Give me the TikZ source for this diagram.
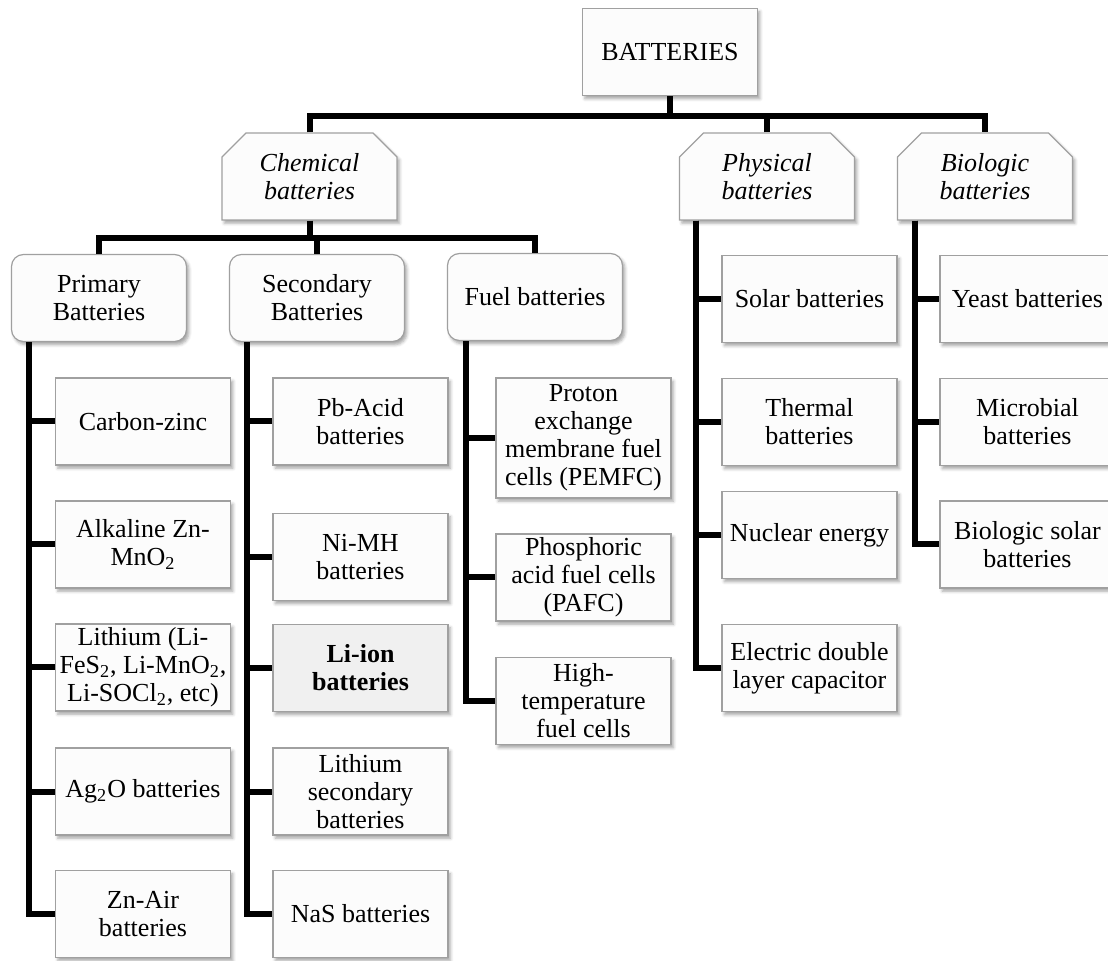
\documentclass[tikz,border=0pt]{standalone}
\usepackage{fontspec}
\setmainfont{Liberation Serif}
\usepackage{tikz}
\usetikzlibrary{
  shapes.misc,
  shadows.blur,
  positioning
}
\definecolor{BoxLine}{RGB}{160, 160, 160}
\definecolor{BoxFill}{RGB}{252, 252, 252}
\definecolor{KeyFill}{RGB}{240, 240, 240}
\tikzset{
    base/.style={draw=BoxLine, line width=0.6pt, fill=BoxFill, align=center,
        minimum width=87.5pt, minimum height=43.5pt, inner xsep=2pt, inner ysep=1pt,
        font=\fontsize{13}{14}\selectfont,
        blur shadow={shadow xshift=1.2pt, shadow yshift=-1.6pt,
            shadow blur radius=1.5pt, shadow opacity=35}},
    leaf/.style={base, rectangle},
    group/.style={base, rectangle, rounded corners=6pt},
    family/.style={base, chamfered rectangle,
        chamfered rectangle corners={north west, north east},
        chamfered rectangle xsep=6pt, chamfered rectangle ysep=6pt,
        font=\fontsize{13}{14}\selectfont\itshape},
    link/.style={line width=3pt, black},
}

\begin{document}
\begin{tikzpicture}[x=0.5pt, y=-0.5pt]
    \path[use as bounding box, clip] (0,0) rectangle (1108,961);

    % root and the three families
    \node[leaf] (top) at (670,52) {BATTERIES};
    \node[family] (chem) at (309.5,176.5) {Chemical\\batteries};
    \node[family] (phys) at (767,176.5) {Physical\\batteries};
    \node[family] (bio) at (985,176.5) {Biologic\\batteries};

    % chemical groups
    \node[group] (prim) at (99,298) {Primary\\Batteries};
    \node[group] (sec) at (317,298) {Secondary\\Batteries};
    \node[group] (fuel) at (535,297) {Fuel batteries};

    % primary
    \node[leaf] (cz) at (143,421.5) {Carbon-zinc};
    \node[leaf] (alk) at (143,544.5) {Alkaline Zn-\\MnO\textsubscript{2}};
    \node[leaf] (lith) at (143,667.5) {Lithium (Li-\\FeS\textsubscript{2}, Li-MnO\textsubscript{2},\\Li-SOCl\textsubscript{2}, etc)};
    \node[leaf] (ago) at (143,791.5) {Ag\textsubscript{2}O batteries};
    \node[leaf] (zna) at (143,914) {Zn-Air\\batteries};

    % secondary
    \node[leaf] (pba) at (360.5,421.5) {Pb-Acid\\batteries};
    \node[leaf] (nimh) at (360.5,557) {Ni-MH\\batteries};
    \node[leaf, fill=KeyFill, font=\fontsize{13}{14}\selectfont\bfseries] (liion) at (360.5,668) {Li-ion\\batteries};
    \node[leaf] (lisec) at (360.5,791.5) {Lithium\\secondary\\batteries};
    \node[leaf] (nas) at (360.5,914) {NaS batteries};

    % fuel
    \node[leaf, minimum height=60pt] (pem) at (583.5,438) {Proton\\exchange\\membrane fuel\\cells (PEMFC)};
    \node[leaf] (pafc) at (583.5,577.5) {Phosphoric\\acid fuel cells\\(PAFC)};
    \node[leaf] (hifc) at (583.5,701) {High-\\temperature\\fuel cells};

    % physical
    \node[leaf] (solar) at (809.5,299) {Solar batteries};
    \node[leaf] (therm) at (809.5,422) {Thermal\\batteries};
    \node[leaf] (nucl) at (809.5,535) {Nuclear energy};
    \node[leaf] (edlc) at (809.5,668) {Electric double\\layer capacitor};

    % biologic
    \node[leaf] (yeast) at (1027.5,299) {Yeast batteries};
    \node[leaf] (micro) at (1027.5,422) {Microbial\\batteries};
    \node[leaf] (biosol) at (1027.5,544.5) {Biologic solar\\batteries};

    % tree lines
    \draw[link] (top.south) -- ++(0,20) coordinate (tb);
    \draw[link] (chem.north) |- (tb) -| (bio.north);
    \draw[link] (phys.north) -- (phys.north |- tb);

    \draw[link] (chem.south) -- ++(0,17) coordinate (cb);
    \draw[link] (prim.north) |- (cb) -| (fuel.north);
    \draw[link] (sec.north) -- (sec.north |- cb);

    \foreach \c in {cz,alk,lith,ago,zna}
        \draw[link] ([xshift=9pt]prim.south west) |- (\c.west);
    \foreach \c in {pba,nimh,liion,lisec,nas}
        \draw[link] ([xshift=9pt]sec.south west) |- (\c.west);
    \foreach \c in {pem,pafc,hifc}
        \draw[link] ([xshift=9.5pt]fuel.south west) |- (\c.west);
    \foreach \c in {solar,therm,nucl,edlc}
        \draw[link] ([xshift=8.5pt]phys.south west) |- (\c.west);
    \foreach \c in {yeast,micro,biosol}
        \draw[link] ([xshift=9pt]bio.south west) |- (\c.west);
\end{tikzpicture}
\end{document}
